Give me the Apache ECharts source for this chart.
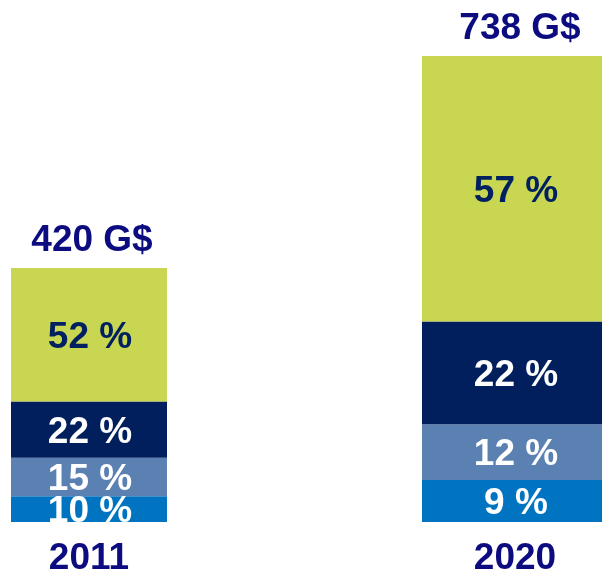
<!DOCTYPE html>
<html>
<head>
<meta charset="utf-8">
<script src="https://cdn.jsdelivr.net/npm/echarts@6/dist/echarts.min.js"></script>
<style>
  html, body { margin: 0; padding: 0; background: #fff; }
  #chart { width: 602px; height: 571px; }
</style>
</head>
<body>
<div id="chart"></div>
<script>
    // data
    const years = ['2011', '2020'];
    const totals = [420, 738];                 // G$
    const shareBlue = [10, 9];                 // % bottom segment
    const shareSteel = [15, 12];
    const shareNavy = [22, 22];
    const shareGreen = [52, 57];               // % top segment

    const segments = [
        { share: shareBlue, color: '#0074C1', text: '#ffffff' },
        { share: shareSteel, color: '#5B80B2', text: '#ffffff' },
        { share: shareNavy, color: '#001F5C', text: '#ffffff' },
        { share: shareGreen, color: '#C8D652', text: '#002060' }
    ];

    const font = 'Liberation Sans, Arial, sans-serif';
    const titleColor = '#0C0C80';
    const fs = 37;

    // each bar sits in its own grid (different widths in the original)
    const grids = [
        { left: 11, width: 156, top: 56, bottom: 49, outerBoundsMode: 'none' },
        { left: 422, width: 186, top: 56, bottom: 49, outerBoundsMode: 'none' }
    ];
    const yMax = [763, 738];
    const totalOffset = [[3, 0], [5, 0]];

    let series = [];
    years.forEach(function (y, i) {
        segments.forEach(function (s) {
            series.push({
                type: 'bar',
                xAxisIndex: i,
                yAxisIndex: i,
                stack: 'bar' + i,
                barWidth: '100%',
                data: [s.share[i] * totals[i] / 100],
                itemStyle: { color: s.color },
                label: {
                    show: true,
                    position: 'inside',
                    offset: [1, 3],
                    formatter: s.share[i] + ' %',
                    color: s.text,
                    fontFamily: font,
                    fontWeight: 'bold',
                    fontSize: fs
                },
                silent: true
            });
        });
        // zero-height bar on top just to carry the total label
        series.push({
            type: 'bar',
            xAxisIndex: i,
            yAxisIndex: i,
            stack: 'bar' + i,
            barWidth: '100%',
            data: [0],
            itemStyle: { color: 'transparent' },
            label: {
                show: true,
                position: 'top',
                distance: 9,
                offset: totalOffset[i],
                formatter: totals[i] + ' G$',
                color: titleColor,
                fontFamily: font,
                fontWeight: 'bold',
                fontSize: fs
            },
            silent: true
        });
    });

    let option = {
        animation: false,
        grid: grids,
        xAxis: years.map(function (y, i) {
            return {
                type: 'category',
                gridIndex: i,
                data: [y],
                axisLine: { show: false },
                axisTick: { show: false },
                axisLabel: {
                    margin: 18,
                    color: titleColor,
                    fontFamily: font,
                    fontWeight: 'bold',
                    fontSize: fs
                }
            };
        }),
        yAxis: years.map(function (y, i) {
            return { type: 'value', gridIndex: i, min: 0, max: yMax[i], show: false };
        }),
        series: series
    };

    let myChart = echarts.init(document.getElementById('chart'));
    myChart.setOption(option);
</script>
</body>
</html>
